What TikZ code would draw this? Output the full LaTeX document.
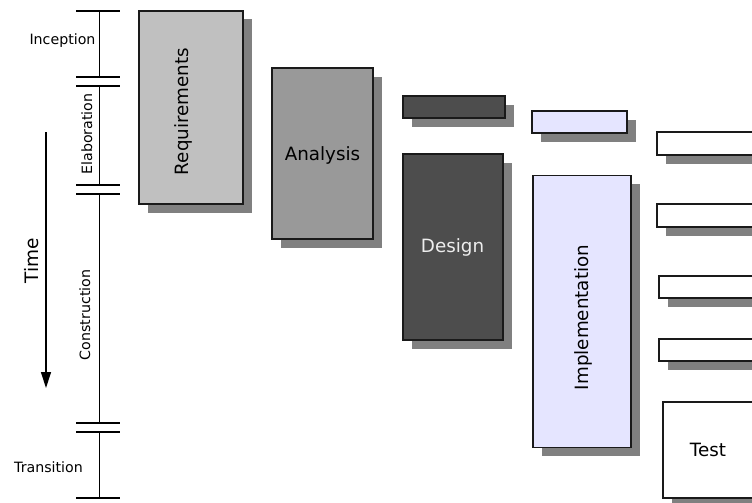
\documentclass[tikz,border=0pt]{standalone}
\usepackage{fontspec}
\setmainfont{DejaVu Sans}
\usetikzlibrary{arrows.meta,shadows}
\definecolor{reqfill}{HTML}{C0C0C0}
\definecolor{anafill}{HTML}{999999}
\definecolor{desfill}{HTML}{4D4D4D}
\definecolor{impfill}{HTML}{E5E5FF}
\definecolor{shadowgray}{HTML}{808080}
\definecolor{edge}{HTML}{1A1A1A}
\begin{document}
\begin{tikzpicture}[x=1pt,y=-1pt,
  stagebox/.style={draw=edge, line width=1.2pt, inner sep=0pt, outer sep=0pt,
    drop shadow={shadow xshift=9pt, shadow yshift=-8.5pt, fill=shadowgray, opacity=1}},
  biglabel/.style={font=\fontsize{18.3}{20}\selectfont, inner sep=0pt, anchor=base},
  phaselabel/.style={font=\fontsize{14.2}{16}\selectfont, inner sep=0pt, anchor=base},
  axis/.style={line width=1.3pt, black},
]
\useasboundingbox (0,0) rectangle (752,503);

% ---- phase axis ----
\foreach \n/\y in {t0/11, t1/77, t2/86, t3/185, t4/194, t5/423, t6/432, t7/498}{
  \coordinate (\n l) at (76,\y);
  \coordinate (\n r) at (120,\y);
  \coordinate (\n) at (99.5,\y);
  \draw[axis] (\n l) -- (\n r);
}
\draw[axis] (t0) -- (t1);
\draw[axis] (t2) -- (t3);
\draw[axis] (t4) -- (t5);
\draw[axis] (t6) -- (t7);

\node[phaselabel] (inc) at (62.5,44.5) {Inception};
\node[phaselabel, rotate=90] (ela) at (92,134) {Elaboration};
\node[phaselabel, rotate=90] (con) at (90,315) {Construction};
\node[phaselabel] (tra) at (48.5,472) {Transition};

% ---- time arrow ----
\coordinate (tstart) at (46,132);
\coordinate (tend) at (46,388);
\draw[line width=1.3pt, -{Triangle[length=16pt,width=10pt]}] (tstart) -- (tend);
\node[font=\fontsize{18.5}{20}\selectfont, inner sep=0pt, anchor=base, rotate=90] (time) at (38,261) {Time};

% ---- stage boxes ----
\node[stagebox, fill=reqfill, minimum width=104pt, minimum height=193pt] (req) at (191,107.5) {};
\node[biglabel, rotate=90] (reqt) at (188.5,111.5) {Requirements};

\node[stagebox, fill=anafill, minimum width=101pt, minimum height=171pt] (ana) at (322.5,153.5) {};
\node[biglabel] (anat) at (322.5,160.5) {Analysis};

\node[stagebox, fill=desfill, minimum width=102pt, minimum height=22pt] (desa) at (454,107) {};
\node[stagebox, fill=desfill, minimum width=100pt, minimum height=186pt] (des) at (453,247) {};
\node[biglabel, text=white!93!black] (dest) at (452.5,252.5) {Design};

\node[stagebox, fill=impfill, minimum width=95pt, minimum height=22pt] (impa) at (579.5,122) {};
\node[stagebox, fill=impfill, minimum width=98pt, minimum height=272pt] (imp) at (582,311.5) {};
\node[biglabel, rotate=90] (impt) at (588,317.5) {Implementation};

\node[stagebox, fill=white, minimum width=100pt, minimum height=23pt] (tsa) at (707,143.5) {};
\node[stagebox, fill=white, minimum width=100pt, minimum height=23pt] (tsb) at (707,215.5) {};
\node[stagebox, fill=white, minimum width=100pt, minimum height=22pt] (tsc) at (709,287) {};
\node[stagebox, fill=white, minimum width=100pt, minimum height=22pt] (tsd) at (709,350) {};
\node[stagebox, fill=white, minimum width=100pt, minimum height=96pt] (tst) at (713,450) {};
\node[biglabel] (tstt) at (708,456) {Test};
\end{tikzpicture}
\end{document}
